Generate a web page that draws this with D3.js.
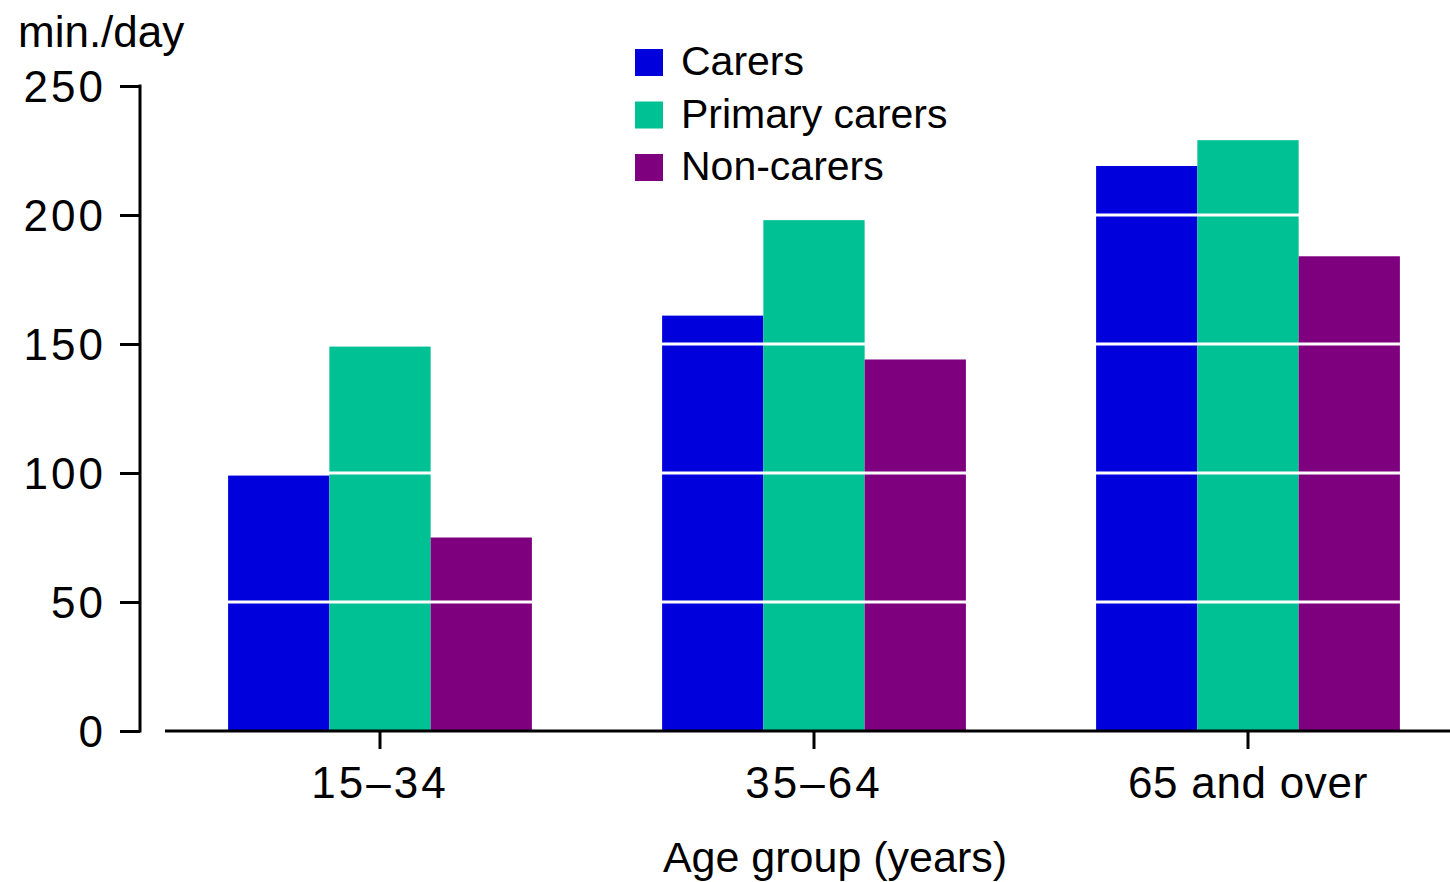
<!DOCTYPE html>
<html><head><meta charset="utf-8">
<script src="https://cdn.jsdelivr.net/npm/d3@7"></script>
<style>body{margin:0;background:#fff}svg{display:block}text{font-family:"Liberation Sans",Arial,sans-serif;fill:#000}</style>
</head><body>
<svg id="c" width="1450" height="882"></svg>
<script>
const groups = ["15–34", "35–64", "65 and over"];
const seriesNames = ["Carers", "Primary carers", "Non-carers"];
const carers = [99, 161, 219];
const primaryCarers = [149, 198, 229];
const nonCarers = [75, 144, 184];
const yTicks = [0, 50, 100, 150, 200, 250];
const colors = ["#0000DD", "#00C194", "#7E007E"];

const seriesValues = [carers, primaryCarers, nonCarers];
const svg = d3.select("#c");
const x0 = d3.scaleBand().domain(groups).range([163, 1465]).paddingInner(0.3).paddingOuter(0.15);
const x1 = d3.scaleBand().domain(seriesNames).range([0, x0.bandwidth()]);
const y = d3.scaleLinear().domain([0, 250]).range([731, 86]);
const color = d3.scaleOrdinal().domain(seriesNames).range(colors);

// bars
groups.forEach((g, gi) => {
  seriesNames.forEach((s, si) => {
    svg.append("rect")
      .attr("x", x0(g) + x1(s))
      .attr("y", y(seriesValues[si][gi]))
      .attr("width", x1.bandwidth())
      .attr("height", y(0) - y(seriesValues[si][gi]))
      .attr("fill", color(s));
  });
});

// white gridlines over bars
svg.selectAll("line.grid").data(yTicks.filter(d => d > 0)).enter().append("line")
  .attr("x1", 165).attr("x2", 1450)
  .attr("y1", d => y(d)).attr("y2", d => y(d))
  .attr("stroke", "#fff").attr("stroke-width", 3);

// y axis
const yAxis = svg.append("g").attr("transform", "translate(140,0)")
  .call(d3.axisLeft(y).tickValues(yTicks).tickSize(20).tickPadding(16).tickSizeOuter(0));
yAxis.select(".domain").attr("stroke", "#000").attr("stroke-width", 3).attr("d", `M0,${y(0)+1.5}V${y(250)-1.5}`);
yAxis.selectAll(".tick line").attr("stroke", "#000").attr("stroke-width", 3);
yAxis.selectAll(".tick text").attr("font-size", 44).attr("letter-spacing", 3)
  .attr("font-family", "Liberation Sans, Arial, sans-serif").attr("fill", "#000").attr("dy", "0.36em").attr("dx", 2);

// x axis
const xAxis = svg.append("g").attr("transform", `translate(0,${y(0)})`)
  .call(d3.axisBottom(x0).tickSize(18).tickPadding(18).tickSizeOuter(0));
xAxis.select(".domain").attr("stroke", "#000").attr("stroke-width", 3).attr("d", "M165,0H1450");
xAxis.selectAll(".tick line").attr("stroke", "#000").attr("stroke-width", 3);
xAxis.selectAll(".tick text").attr("font-size", 44)
  .attr("letter-spacing", d => /[a-z]/.test(d) ? 0.7 : 3)
  .attr("font-family", "Liberation Sans, Arial, sans-serif").attr("fill", "#000").attr("dy", "0.71em");

// titles
svg.append("text").attr("x", 18).attr("y", 47).attr("font-size", 44).text("min./day");
svg.append("text").attr("x", 835).attr("y", 872).attr("text-anchor", "middle").attr("font-size", 43).text("Age group (years)");

// legend
const leg = svg.append("g");
seriesNames.forEach((s, i) => {
  const ly = 49 + i * 52.5;
  leg.append("rect").attr("x", 635).attr("y", ly).attr("width", 28).attr("height", 27).attr("fill", color(s));
  leg.append("text").attr("x", 681).attr("y", ly + 26).attr("font-size", 41).text(s);
});
</script>
</body></html>
